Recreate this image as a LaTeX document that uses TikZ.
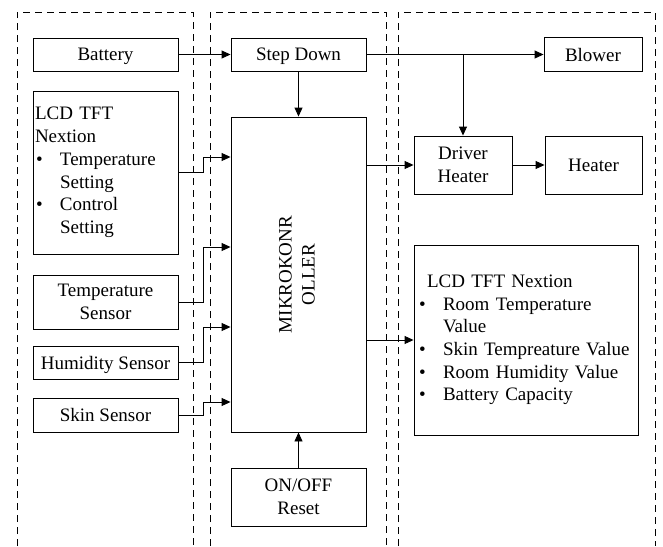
\documentclass[tikz,border=0pt]{standalone}
\usepackage{fontspec}
\setmainfont{Liberation Serif}
\usetikzlibrary{arrows.meta,calc}
\begin{document}
\begin{tikzpicture}[x=1pt,y=-1pt,
  box/.style={draw, line width=0.9pt, inner sep=2pt, align=center, font=\fontsize{19}{22.7}\selectfont},
  cbox/.style={box, text depth=0pt},
  arr/.style={line width=0.9pt, -{Triangle[length=9pt,width=8pt]}},
  panel/.style={dash pattern=on 7pt off 5pt, line width=0.8pt}]
\useasboundingbox (0,0) rectangle (663,546);

% panels
\draw[panel] (17,546) -- (17,12) -- (193,12) -- (193,546);
\draw[panel] (210,546) -- (210,12) -- (386,12) -- (386,546);
\draw[panel] (398,546) -- (398,12) -- (655,12) -- (655,546);

% left column
\node[cbox, minimum width=145pt, minimum height=33pt] (bat) at (105.5,54.5) {Battery};
\node[box, minimum width=145pt, minimum height=163pt, text width=141pt, align=left] (lcd1) at (105.5,172.5)
  {LCD TFT\\Nextion\\\makebox[25pt][l]{\hspace{1pt}•}Temperature\\\hspace*{25pt}Setting\\\makebox[25pt][l]{\hspace{1pt}•}Control\\\hspace*{25pt}Setting\par\vspace{-1pt}};
\node[cbox, minimum width=145pt, minimum height=54pt] (ts) at (105.5,302) {Temperature\\Sensor};
\node[cbox, minimum width=145pt, minimum height=33pt] (hs) at (105.5,362.5) {Humidity Sensor};
\node[cbox, minimum width=145pt, minimum height=34pt] (ss) at (105.5,415) {Skin Sensor};

% middle column
\node[cbox, minimum width=135pt, minimum height=33pt] (sd) at (298.5,54.5) {Step Down};
\node[box, minimum width=135pt, minimum height=315pt] (mcu) at (298.5,274.5) {};
\node[rotate=90, align=center, font=\fontsize{19}{23}\selectfont] (mcutext) at (297,274.5) {MIKROKONR\\OLLER};
\node[cbox, minimum width=135pt, minimum height=58pt] (onoff) at (298.5,497) {ON/OFF\\Reset};

% right column
\node[cbox, minimum width=98pt, minimum height=34pt] (blw) at (593,54.5) {Blower};
\node[cbox, minimum width=98pt, minimum height=58pt] (dh) at (463,165) {Driver\\Heater};
\node[cbox, minimum width=97pt, minimum height=58pt] (ht) at (593.5,165) {Heater};
\node[box, minimum width=224pt, minimum height=190pt, text width=216pt, inner sep=4pt, align=left] (lcd2) at (526,340)
  {\hspace*{9pt}LCD TFT Nextion\\\makebox[25pt][l]{\hspace{1pt}•}Room Temperature\\\hspace*{25pt}Value\\\makebox[25pt][l]{\hspace{1pt}•}Skin Tempreature Value\\\makebox[25pt][l]{\hspace{1pt}•}Room Humidity Value\\\makebox[25pt][l]{\hspace{1pt}•}Battery Capacity\par\vspace{-1pt}};

% connectors
\draw[arr] (bat.east) -- (sd.west);
\draw[arr] (sd.east) -- (blw.west);
\coordinate (br) at (dh.north |- sd.east);
\draw[arr] (br) -- (dh.north);
\draw[arr] (sd.south) -- (mcu.north);
\draw[arr] (onoff.north) -- (mcu.south);
\draw[arr] (mcu.east |- dh.west) -- (dh.west);
\draw[arr] (dh.east) -- (ht.west);
\draw[arr] (mcu.east |- lcd2.west) -- (lcd2.west);

\coordinate (jx) at (203.5,0);
\coordinate (y1) at (0,157);
\coordinate (y2) at (0,247);
\coordinate (y3) at (0,327);
\coordinate (y4) at (0,402);
\coordinate (in1) at (mcu.west |- y1);
\coordinate (in2) at (mcu.west |- y2);
\coordinate (in3) at (mcu.west |- y3);
\coordinate (in4) at (mcu.west |- y4);
\draw[arr] (lcd1.east) -| (jx |- in1) -- (in1);
\draw[arr] (ts.east) -| (jx |- in2) -- (in2);
\draw[arr] (hs.east) -| (jx |- in3) -- (in3);
\draw[arr] (ss.east) -| (jx |- in4) -- (in4);
\end{tikzpicture}
\end{document}
